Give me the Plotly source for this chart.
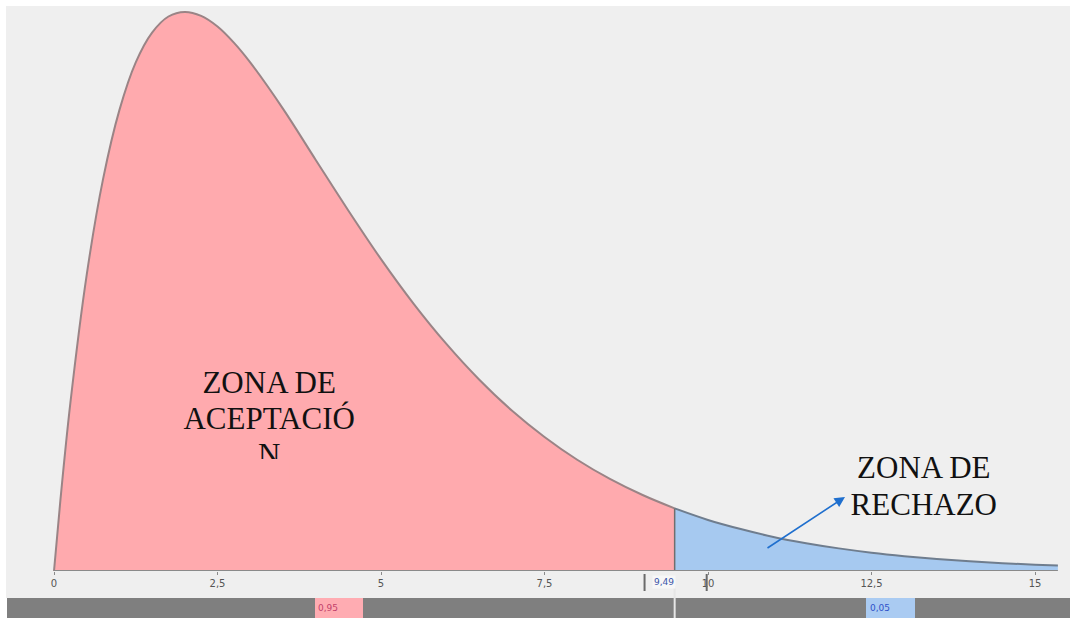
import plotly.graph_objects as go

# Chi-square density (4 degrees of freedom), split at the critical value
critical_value = 9.49
acc_x = [0, 0.1, 0.25, 0.5, 0.75, 1, 1.25, 1.5, 1.75, 2, 2.25, 2.5, 2.75, 3, 3.5,
         4, 4.5, 5, 5.5, 6, 6.5, 7, 7.5, 8, 8.5, 9, 9.49]
acc_y = [0, 0.0238, 0.0552, 0.0974, 0.1289, 0.1516, 0.1673, 0.1771, 0.1824,
         0.1839, 0.1826, 0.1791, 0.1738, 0.1673, 0.1521, 0.1353, 0.1186, 0.1026,
         0.0879, 0.0747, 0.0630, 0.0528, 0.0441, 0.0366, 0.0303, 0.0250, 0.0206]
rej_x = [9.49, 10, 10.5, 11, 11.5, 12, 12.5, 13, 13.5, 14, 14.5, 15, 15.35]
rej_y = [0.0206, 0.0168, 0.0138, 0.0112, 0.00915, 0.00744, 0.00603, 0.00489,
         0.00395, 0.00319, 0.00257, 0.00207, 0.00178]

prob_accept = "0,95"
prob_reject = "0,05"
tick_vals = [0, 2.5, 5, 7.5, 10, 12.5, 15]
tick_text = ["0", "2,5", "5", "7,5", "10", "12,5", "15"]

PINK = "rgb(255,170,174)"
BLUE = "rgb(166,201,240)"
SERIF = "Liberation Serif, Times New Roman, serif"

W, H = 1070, 618
BASE = 571  # pixel row of the x axis

fig = go.Figure()

# acceptance region
fig.add_trace(go.Scatter(x=acc_x, y=acc_y, mode="lines", fill="tozeroy",
                         fillcolor=PINK, line=dict(color="#9a8486", width=2, shape="spline", smoothing=1.0),
                         hoverinfo="skip"))
# rejection region
fig.add_trace(go.Scatter(x=rej_x, y=rej_y, mode="lines", fill="tozeroy",
                         fillcolor=BLUE, line=dict(color="#6f7d8e", width=2, shape="spline", smoothing=1.0),
                         hoverinfo="skip"))
# boundary at the critical value
fig.add_trace(go.Scatter(x=[critical_value, critical_value], y=[0, acc_y[-1]], mode="lines",
                         line=dict(color="#6f6f6f", width=1.5), hoverinfo="skip"))
# baseline under the curve
fig.add_trace(go.Scatter(x=[acc_x[0], rej_x[-1]], y=[0, 0], mode="lines",
                         line=dict(color="#8a8a8a", width=2), hoverinfo="skip"))

# zone labels
acc_lines = ["ZONA DE", "ACEPTACIÓ", "N"]
acc_pos_y = [0.0612, 0.0494, 0.0373]
for txt, yy in zip(acc_lines, acc_pos_y):
    fig.add_trace(go.Scatter(x=[3.29], y=[yy], mode="text", text=[txt],
                             textposition="middle center",
                             textfont=dict(family=SERIF, size=31, color="#111111"),
                             hoverinfo="skip"))
rej_lines = ["ZONA DE", "RECHAZO"]
rej_pos_y = [0.0333, 0.0211]
for txt, yy in zip(rej_lines, rej_pos_y):
    fig.add_trace(go.Scatter(x=[13.30], y=[yy], mode="text", text=[txt],
                             textposition="middle center",
                             textfont=dict(family=SERIF, size=31, color="#111111"),
                             hoverinfo="skip"))

x_per_px = 1 / 65.4
y_per_px = 1 / 3040
x_lo = -54 * x_per_px
x_hi = (W - 54) * x_per_px
y_hi = BASE * y_per_px

def py(p):
    """paper y for a pixel row"""
    return (BASE - p) / BASE

shapes = [
    # light grey canvas with a thin white frame
    dict(type="rect", xref="paper", yref="paper", x0=6 / W, x1=1, y0=py(598), y1=py(6),
         fillcolor="#efefef", line=dict(width=0), layer="below"),
    # probability bar
    dict(type="rect", xref="paper", yref="paper", x0=7 / W, x1=1, y0=py(H), y1=py(598),
         fillcolor="#7f7f7f", line=dict(width=0), layer="above"),
    dict(type="rect", xref="paper", yref="paper", x0=315 / W, x1=363 / W, y0=py(H), y1=py(598),
         fillcolor="#ffacb2", line=dict(width=0), layer="above"),
    dict(type="rect", xref="paper", yref="paper", x0=866 / W, x1=915 / W, y0=py(H), y1=py(598),
         fillcolor="#aacbf2", line=dict(width=0), layer="above"),
    dict(type="line", xref="x", yref="paper", x0=critical_value, x1=critical_value,
         y0=py(H), y1=py(586), line=dict(color="#e6e6e6", width=2), layer="above"),
    # interval handles on the axis
    dict(type="line", xref="x", yref="paper", x0=9.03, x1=9.03, y0=py(591), y1=py(574),
         line=dict(color="#6a6a6a", width=2), layer="above"),
    dict(type="line", xref="x", yref="paper", x0=9.98, x1=9.98, y0=py(591), y1=py(574),
         line=dict(color="#6a6a6a", width=2), layer="above"),
    # the third text line is cut off below its top strokes
    dict(type="rect", xref="x", yref="y", x0=3.0, x1=3.6, y0=0.029, y1=(BASE - 459) * y_per_px,
         fillcolor=PINK, line=dict(width=0), layer="above"),
]

annotations = [
    dict(xref="paper", yref="paper", x=316 / W, y=py(608), xanchor="left", yanchor="middle",
         text=prob_accept, showarrow=False,
         font=dict(family="DejaVu Sans", size=9, color="#c2416b")),
    dict(xref="paper", yref="paper", x=868 / W, y=py(608), xanchor="left", yanchor="middle",
         text=prob_reject, showarrow=False,
         font=dict(family="DejaVu Sans", size=9, color="#2f52c9")),
    dict(xref="x", yref="paper", x=9.14, y=py(582), xanchor="left", yanchor="middle",
         text="9,49", showarrow=False, bgcolor="#f7f7f7", borderpad=1,
         font=dict(family="DejaVu Sans", size=9, color="#3b55a8")),
    # arrow pointing to the rejection label
    dict(xref="x", yref="y", axref="x", ayref="y",
         x=(845 - 54) * x_per_px, y=(BASE - 497) * y_per_px,
         ax=(766 - 54) * x_per_px, ay=(BASE - 549) * y_per_px,
         text="", showarrow=True, arrowhead=2, arrowsize=1.3, arrowwidth=1.6,
         arrowcolor="#1f6fce"),
]

fig.update_layout(
    width=W, height=H,
    margin=dict(l=0, r=0, t=0, b=H - BASE, pad=0),
    paper_bgcolor="white",
    plot_bgcolor="rgba(0,0,0,0)",
    showlegend=False,
    shapes=shapes,
    annotations=annotations,
    xaxis=dict(range=[x_lo, x_hi], tickvals=tick_vals, ticktext=tick_text,
               ticks="outside", ticklen=3, tickcolor="#8a8a8a", showgrid=False,
               zeroline=False, showline=False,
               tickfont=dict(family="DejaVu Sans", size=10, color="#555555"),
               fixedrange=True),
    yaxis=dict(range=[0, y_hi], visible=False, showgrid=False, zeroline=False,
               fixedrange=True),
)

fig.write_html("out.html")
